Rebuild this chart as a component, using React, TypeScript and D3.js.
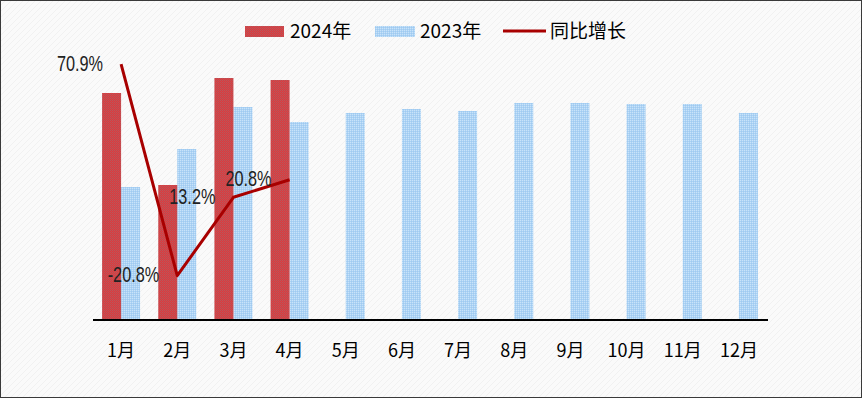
import React from 'react';
import * as d3 from 'd3';

const MONTHS = ['1月', '2月', '3月', '4月', '5月', '6月', '7月', '8月', '9月', '10月', '11月', '12月'];
const SERIES = ['2024年', '2023年'];
const VALUES_2024 = [227, 135, 242, 240];
const VALUES_2023 = [133, 171, 213, 198, 207, 211, 209, 217, 217, 216, 216, 207];
const GROWTH = [70.9, -20.8, 13.2, 20.8];
const LEGEND_LINE = '同比增长';

const W = 862, H = 398;
const margin = { top: 20, right: 95, bottom: 78, left: 93 };
const baseY = H - margin.bottom;

export default function App() {
  const x0 = d3.scaleBand().domain(MONTHS).range([margin.left, W - margin.right]);
  const x1 = d3.scaleBand().domain(SERIES).range([0, x0.bandwidth()]).paddingOuter(0.478);
  const y = d3.scaleLinear().domain([0, 300]).range([baseY, margin.top]);
  const y2 = d3.scaleLinear().domain([-40, 100]).range([baseY, -3]);

  const cx = (i) => x0(MONTHS[i]) + x0.bandwidth() / 2;
  const line = d3.line().x((d, i) => cx(i)).y(d => y2(d));

  return (
    <svg width={W} height={H} style={{ position: 'absolute', left: 0, top: 0 }}
      fontFamily="'Noto Sans CJK SC', 'Noto Sans', sans-serif">
      <defs>
        <pattern id="bg" width="6" height="6" patternUnits="userSpaceOnUse">
          <rect width="6" height="6" fill="#fafafa" />
          <path d="M0,6 L6,0" stroke="#f1f1f1" strokeWidth="1" />
        </pattern>
        <pattern id="red" width="2" height="2" patternUnits="userSpaceOnUse">
          <rect width="2" height="2" fill="#cf4044" />
          <rect x="0" y="0" width="1" height="1" fill="#bd5559" />
          <rect x="1" y="1" width="1" height="1" fill="#d4474a" />
        </pattern>
        <pattern id="blue" width="2" height="2" patternUnits="userSpaceOnUse">
          <rect width="2" height="2" fill="#abd2f4" />
          <rect x="0" y="0" width="1" height="1" fill="#c9e3f9" />
          <rect x="1" y="1" width="1" height="1" fill="#a0caf0" />
        </pattern>
      </defs>
      <rect x={0.5} y={0.5} width={W - 1} height={H - 1} fill="url(#bg)" stroke="#3a3a3a" />

      {/* Legend */}
      <g fontSize="19" fill="#000">
        <rect x={245} y={26} width={39} height={11} fill="url(#red)" />
        <text x={290} y={31} dy="0.35em">{SERIES[0]}</text>
        <rect x={375} y={26} width={40} height={11} fill="url(#blue)" />
        <text x={420} y={31} dy="0.35em">{SERIES[1]}</text>
        <line x1={503} x2={546} y1={31} y2={31} stroke="#a80000" strokeWidth={3} />
        <text x={550} y={31} dy="0.35em">{LEGEND_LINE}</text>
      </g>

      {/* Bars */}
      {VALUES_2023.map((v, i) => (
        <rect key={'b' + i} x={x0(MONTHS[i]) + x1(SERIES[1])} width={x1.bandwidth()}
          y={y(v)} height={baseY - y(v)} fill="url(#blue)" />
      ))}
      {VALUES_2024.map((v, i) => (
        <rect key={'r' + i} x={x0(MONTHS[i]) + x1(SERIES[0])} width={x1.bandwidth()}
          y={y(v)} height={baseY - y(v)} fill="url(#red)" />
      ))}

      {/* Axis */}
      <line x1={margin.left} x2={W - margin.right + 1} y1={baseY} y2={baseY} stroke="#000" strokeWidth={2} />
      <g fontSize="18" fill="#000" textAnchor="middle">
        {MONTHS.map((m, i) => (
          <text key={m} x={cx(i)} y={351} dy="0.35em">{m}</text>
        ))}
      </g>

      {/* Growth line */}
      <path d={line(GROWTH)} fill="none" stroke="#a80000" strokeWidth={3} strokeLinejoin="round" />
      <g fontFamily="'Liberation Sans', Arial, sans-serif" fontSize="22" fill="#222">
        {GROWTH.map((g, i) => (
          <text key={i} transform={`translate(${cx(i) - 18},${y2(g) - 1}) scale(0.74,1)`}
            textAnchor="end" dy="0.35em">{g.toFixed(1) + '%'}</text>
        ))}
      </g>
    </svg>
  );
}
